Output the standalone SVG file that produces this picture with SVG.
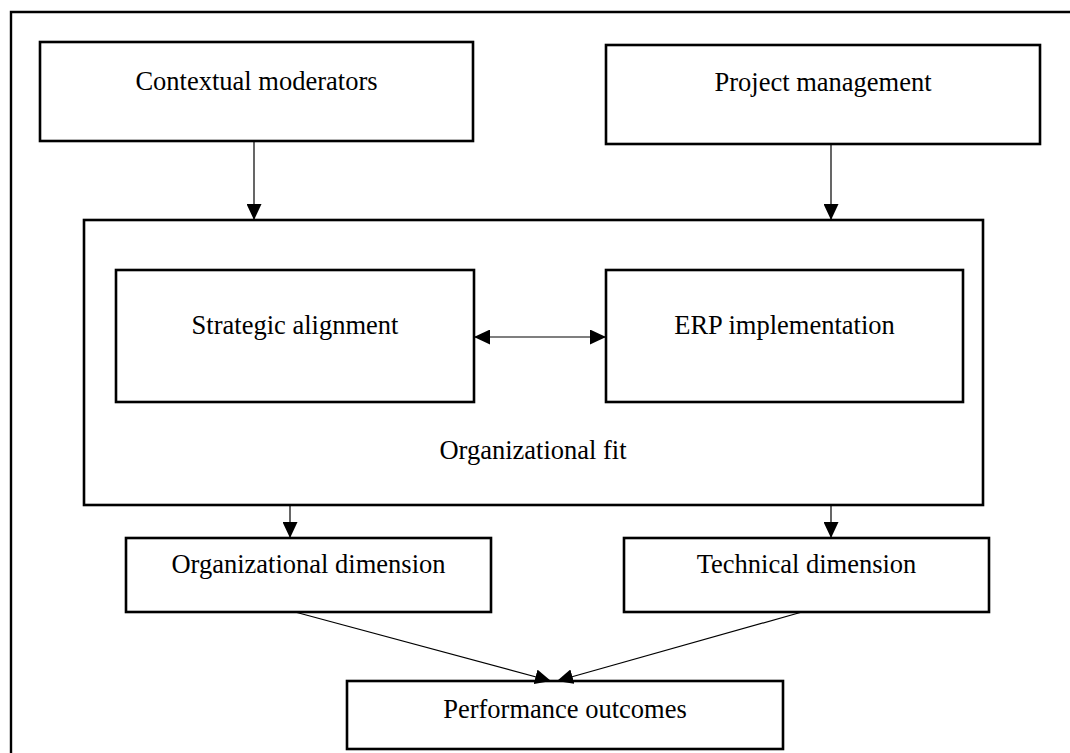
<svg xmlns="http://www.w3.org/2000/svg" width="1070" height="753" viewBox="0 0 1070 753">
<style>
.box{fill:#fff;stroke:#000;stroke-width:2.6}
.frame{fill:none;stroke:#000;stroke-width:2.4}
.lbl{font-family:"Liberation Serif","Times New Roman",serif;font-size:26.5px;fill:#000;text-anchor:middle}
.con{fill:none;stroke:#000;stroke-width:1.2}
</style>
<defs>
<marker id="ah" viewBox="0 0 16 15" refX="16" refY="7.5" markerWidth="16" markerHeight="15" markerUnits="userSpaceOnUse" orient="auto-start-reverse">
<path d="M0,0 L16,7.5 L0,15 Z" fill="#000"/>
</marker>
</defs>
<rect width="1070" height="753" fill="#fff"/>
<path class="frame" d="M11,760 L11,12 L1075,12"/>
<g id="contextual-moderators">
<rect class="box" x="40" y="42" width="433" height="99"/>
<text class="lbl" x="256.5" y="90">Contextual moderators</text>
</g>
<g id="project-management">
<rect class="box" x="606" y="45" width="434" height="99"/>
<text class="lbl" x="823" y="91">Project management</text>
</g>
<g id="organizational-fit">
<rect class="box" x="84" y="220" width="899" height="285"/>
<text class="lbl" x="533" y="459">Organizational fit</text>
</g>
<g id="strategic-alignment">
<rect class="box" x="116" y="270" width="358" height="132"/>
<text class="lbl" x="295" y="334">Strategic alignment</text>
</g>
<g id="erp-implementation">
<rect class="box" x="606" y="270" width="357" height="132"/>
<text class="lbl" x="784.5" y="334">ERP implementation</text>
</g>
<g id="organizational-dimension">
<rect class="box" x="126" y="538" width="365" height="74"/>
<text class="lbl" x="308.5" y="573">Organizational dimension</text>
</g>
<g id="technical-dimension">
<rect class="box" x="624" y="538" width="365" height="74"/>
<text class="lbl" x="806.5" y="573">Technical dimension</text>
</g>
<g id="performance-outcomes">
<rect class="box" x="347" y="681" width="436" height="68"/>
<text class="lbl" x="565" y="718">Performance outcomes</text>
</g>
<g id="connectors">
<line class="con" x1="254" y1="141" x2="254" y2="220" marker-end="url(#ah)"/>
<line class="con" x1="831" y1="144" x2="831" y2="220" marker-end="url(#ah)"/>
<line class="con" x1="474" y1="337" x2="606" y2="337" marker-start="url(#ah)" marker-end="url(#ah)"/>
<line class="con" x1="290" y1="505" x2="290" y2="538" marker-end="url(#ah)"/>
<line class="con" x1="831" y1="505" x2="831" y2="538" marker-end="url(#ah)"/>
<line class="con" x1="295" y1="612" x2="551" y2="681" marker-end="url(#ah)"/>
<line class="con" x1="802" y1="612" x2="557" y2="681" marker-end="url(#ah)"/>
</g>
</svg>
